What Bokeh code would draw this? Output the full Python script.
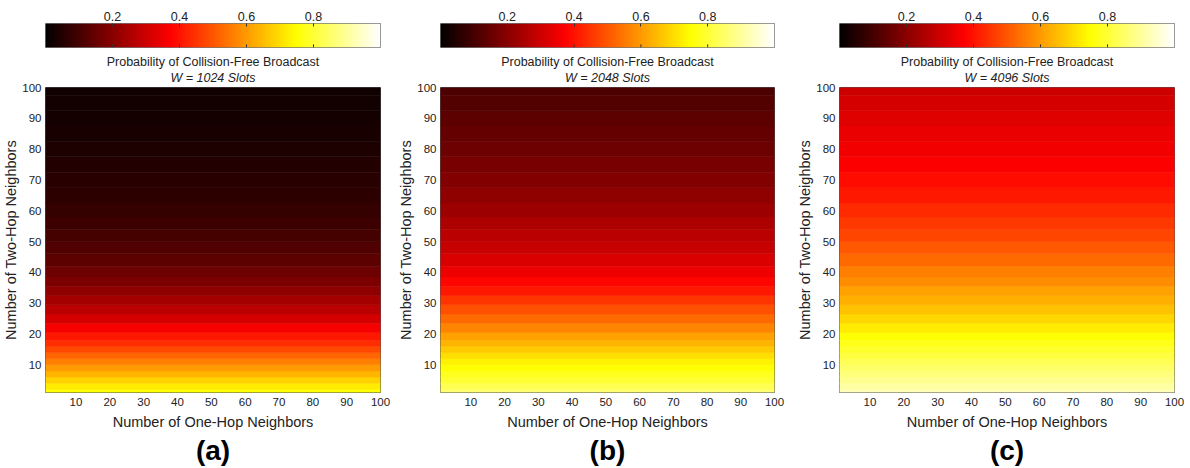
import numpy as np
from bokeh.plotting import figure
from bokeh.models import LinearColorMapper, FixedTicker, Title, ColumnDataSource
from bokeh.layouts import row, column
from bokeh.embed import file_html
from bokeh.resources import INLINE

# ---------------- data ----------------
one_hop_ticks = [10, 20, 30, 40, 50, 60, 70, 80, 90, 100]
two_hop_ticks = [10, 20, 30, 40, 50, 60, 70, 80, 90, 100]
cbar_ticks = [0.2, 0.4, 0.6, 0.8]

# sampled number of two-hop neighbours (rows of the maps)
two_hop = [1, 3, 5, 7, 9, 11, 13, 15, 17, 19, 22, 25, 28, 31, 34, 37, 40, 44, 48, 52,
           56, 60, 65, 70, 75, 80, 85, 90, 95, 100]

# probability of collision-free broadcast read per row
prob_a = [0.75, 0.72, 0.68, 0.64, 0.60, 0.56, 0.52, 0.48, 0.44, 0.41, 0.36, 0.31, 0.27, 0.24, 0.21,
          0.18, 0.16, 0.135, 0.115, 0.10, 0.088, 0.077, 0.065, 0.055, 0.047, 0.040, 0.034, 0.029,
          0.024, 0.020]
prob_b = [0.86, 0.83, 0.80, 0.78, 0.75, 0.73, 0.70, 0.67, 0.64, 0.61, 0.57, 0.53, 0.49, 0.45, 0.41,
          0.38, 0.35, 0.32, 0.29, 0.27, 0.25, 0.23, 0.21, 0.19, 0.175, 0.16, 0.145, 0.133, 0.12, 0.11]
prob_c = [0.93, 0.91, 0.89, 0.87, 0.85, 0.83, 0.81, 0.79, 0.77, 0.75, 0.72, 0.69, 0.66, 0.63, 0.61,
          0.58, 0.56, 0.53, 0.50, 0.475, 0.455, 0.435, 0.41, 0.39, 0.37, 0.355, 0.34, 0.325, 0.31, 0.30]

window_slots = ["1024", "2048", "4096"]
panel_tags = ["(a)", "(b)", "(c)"]

FONT = "Liberation Sans"


def hot_palette(m=256):
    n = int(3 * m / 8)
    cols = []
    for i in range(m):
        r = min(1.0, (i + 1) / n)
        g = 0.0 if i < n else min(1.0, (i - n + 1) / n)
        b = 0.0 if i < 2 * n else (i - 2 * n + 1) / (m - 2 * n)
        cols.append("#%02x%02x%02x" % (int(round(r * 255)), int(round(g * 255)), int(round(b * 255))))
    return cols


HOT = hot_palette()


def row_edges(ys):
    lo, hi = [], []
    for i, y in enumerate(ys):
        lo.append(ys[0] if i == 0 else (ys[i - 1] + y) / 2)
        hi.append(ys[-1] if i == len(ys) - 1 else (ys[i + 1] + y) / 2)
    return lo, hi


def make_panel(vals, slots, tag, left, right, fw):
    mapper = LinearColorMapper(palette=HOT, low=0, high=1)
    width = left + fw + right

    # ---- colour bar ----
    cb = figure(width=width, height=52, x_range=(0, 1), y_range=(0, 1),
                x_axis_location="above", y_axis_type=None,
                min_border_left=left, min_border_right=right, min_border_top=23, min_border_bottom=5,
                toolbar_location=None, output_backend="svg")
    cb.image(image=[np.linspace(0, 1, 512).reshape(1, -1)], x=0, y=0, dw=1, dh=1, color_mapper=mapper)
    cb.segment(x0=cbar_ticks, y0=[0] * len(cbar_ticks), x1=cbar_ticks, y1=[0.13] * len(cbar_ticks),
               line_color="#333333", line_width=1)
    cb.grid.visible = False
    cb.xaxis.ticker = FixedTicker(ticks=cbar_ticks)
    cb.xaxis.major_tick_in = 3
    cb.xaxis.major_tick_out = 0
    cb.xaxis.minor_tick_line_color = None
    cb.xaxis.axis_line_color = None
    cb.xaxis.major_tick_line_color = "#333333"
    cb.xaxis.major_label_standoff = 3
    cb.xaxis.major_label_text_font = FONT
    cb.xaxis.major_label_text_font_size = "12.5px"
    cb.xaxis.major_label_text_color = "#222222"
    cb.outline_line_color = "#777777"
    cb.outline_line_width = 1

    # ---- heat map ----
    p = figure(width=width, height=414, x_range=(1, 100), y_range=(1, 100),
               min_border_left=left, min_border_right=right, min_border_top=35, min_border_bottom=74,
               toolbar_location=None, output_backend="svg")
    lo, hi = row_edges(two_hop)
    src = ColumnDataSource(dict(bottom=lo, top=hi, left=[1] * len(lo), right=[100] * len(lo), prob=vals))
    p.quad(left="left", right="right", bottom="bottom", top="top", source=src,
           fill_color={"field": "prob", "transform": mapper},
           line_color={"field": "prob", "transform": mapper}, line_width=0.6)
    p.grid.visible = False
    p.outline_line_color = "#555555"
    p.outline_line_width = 1
    for ax in (p.xaxis, p.yaxis):
        ax.major_tick_in = 0
        ax.major_tick_out = 0
        ax.minor_tick_line_color = None
        ax.axis_line_color = None
        ax.major_label_text_font = FONT
        ax.major_label_text_font_size = "11.5px"
        ax.major_label_text_color = "#222222"
        ax.major_label_standoff = 4
        ax.axis_label_text_font = FONT
        ax.axis_label_text_font_size = "14.5px"
        ax.axis_label_text_font_style = "normal"
        ax.axis_label_text_color = "#222222"
    p.xaxis.ticker = FixedTicker(ticks=one_hop_ticks)
    p.yaxis.ticker = FixedTicker(ticks=two_hop_ticks)
    p.xaxis.axis_label = "Number of One-Hop Neighbors"
    p.yaxis.axis_label = "Number of Two-Hop Neighbors"
    p.xaxis.major_label_standoff = 5
    p.xaxis.axis_label_standoff = 5
    p.yaxis.axis_label_standoff = 0
    p.add_layout(Title(text=f"W = {slots} Slots", align="center",
                       text_font=FONT, text_font_size="12.5px", text_font_style="italic",
                       text_color="#222222", standoff=5), "above")
    p.add_layout(Title(text="Probability of Collision-Free Broadcast", align="center",
                       text_font=FONT, text_font_size="12.5px", text_font_style="normal",
                       text_color="#222222", standoff=-4), "above")
    p.add_layout(Title(text=tag, align="center", text_font=FONT, text_font_size="28px",
                       text_font_style="bold", text_color="#000000", standoff=0), "below")
    return column(cb, p)


pa = make_panel(prob_a, window_slots[0], panel_tags[0], 45, 15, 335)
pb = make_panel(prob_b, window_slots[1], panel_tags[1], 45, 20, 334)
pc = make_panel(prob_c, window_slots[2], panel_tags[2], 45, 10, 335)

layout = row(pa, pb, pc)
open("out.html", "w").write(file_html(layout, INLINE))
